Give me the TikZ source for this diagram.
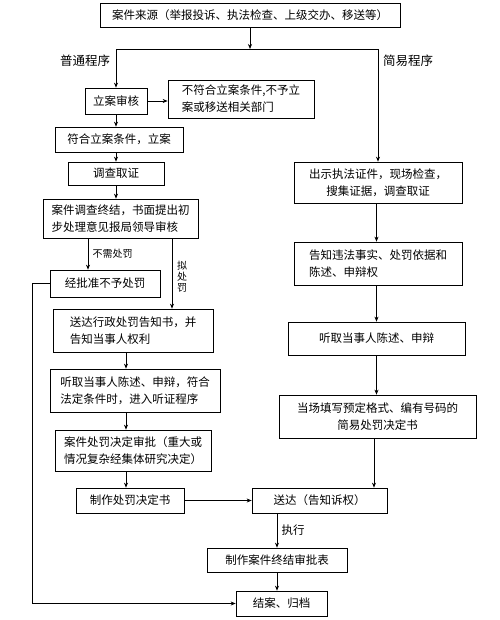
\documentclass[tikz,border=0pt]{standalone}
\usepackage{fontspec}
\newfontfamily\cjk{Noto Sans CJK SC}
\usetikzlibrary{arrows.meta,positioning}

\begin{document}
\begin{tikzpicture}[x=1pt, y=-1pt, >={Stealth[length=5pt,width=4pt]}, line width=0.7pt,
  box/.style={draw, font=\cjk\fontsize{11.5}{17}\selectfont, inner sep=2pt, align=left},
  lbl/.style={font=\cjk\fontsize{12.5}{15}\selectfont},
  note/.style={font=\cjk\fontsize{10}{11}\selectfont, align=center}]
\useasboundingbox (0,0) rectangle (499,620);
% nodes
\node[box, minimum width=300, minimum height=24] (src) at (250,15) {案件来源（举报投诉、执法检查、上级交办、移送等）};%
\coordinate (split) at (250,49);
\node[lbl] (putong) at (85,61) {普通程序};%
\node[lbl] (jianyi) at (408,61) {简易程序};%

\node[box, minimum width=62, minimum height=26] (lian) at (116,101) {立案审核};%
\node[box, minimum width=146, minimum height=38] (buhe) at (241,99) {不符合立案条件,不予立\\案或移送相关部门};%
\node[box, minimum width=128, minimum height=25] (fuhe) at (119,139.5) {符合立案条件，立案};%
\node[box, minimum width=96, minimum height=23] (diaocha) at (116,173.5) {调查取证};%
\node[box, minimum width=155, minimum height=39] (zhongjie) at (120.5,218.5) {案件调查终结，书面提出初\\步处理意见报局领导审核};%
\node[box, minimum width=110, minimum height=27] (buyu) at (105,283.5) {经批准不予处罚};%
\node[box, minimum width=160, minimum height=43] (gaozhi) at (133,330.5) {送达行政处罚告知书，并\\告知当事人权利};%
\node[box, minimum width=170, minimum height=43] (tingqu) at (135,390.5) {听取当事人陈述、申辩，符合\\法定条件时，进入听证程序};%
\node[box, minimum width=156, minimum height=41] (shenpi) at (133,450.5) {案件处罚决定审批（重大或\\情况复杂经集体研究决定）};%
\node[box, minimum width=108, minimum height=25] (juedingshu) at (130,500.5) {制作处罚决定书};%

\node[box, minimum width=168, minimum height=41, align=center] (chushi) at (378,182.5) {出示执法证件，现场检查，\\搜集证据，调查取证};%
\node[box, minimum width=168, minimum height=43] (weifa) at (378,263.5) {告知违法事实、处罚依据和\\陈述、申辩权};%
\node[box, minimum width=177, minimum height=33] (tingqu2) at (376.5,338.5) {听取当事人陈述、申辩};%
\node[box, minimum width=197, minimum height=43, align=center] (dangchang) at (377.5,416.5) {当场填写预定格式、编有号码的\\简易处罚决定书};%

\node[box, minimum width=135, minimum height=25] (songda) at (319.5,500.5) {送达（告知诉权）};%
\node[box, minimum width=140, minimum height=24] (shenpibiao) at (277,560) {制作案件终结审批表};%
\node[box, minimum width=91, minimum height=25] (jiean) at (281.5,603.5) {结案、归档};%

% connectors
\draw[->] (src) -- (split);
\draw[->] (split) -| (lian);
\draw[->] (split) -| (chushi);
\draw[->] (lian.east) -- (lian.east -| buhe.west);
\draw[->] (lian.south) -- (lian.south |- fuhe.north);
\draw[->] (fuhe.south -| lian.south) -- (lian.south |- diaocha.north);
\draw[->] (diaocha.south -| lian.south) -- (lian.south |- zhongjie.north);
\draw[->] ([xshift=-32.5pt]zhongjie.south) -- ([xshift=-32.5pt]zhongjie.south |- buyu.north)
  node[note, midway, right=1pt] (buxu) {不需处罚};
\draw[->] ([xshift=51.5pt]zhongjie.south) -- ([xshift=51.5pt]zhongjie.south |- gaozhi.north);
\node[note] (ni) at (182,277) {拟\\处\\罚};%
\draw[->] (buyu.west) -- ++(-17,0) |- (jiean.west);
\draw[->] ([xshift=-7pt]gaozhi.south) -- ([xshift=-7pt]gaozhi.south |- tingqu.north);
\draw[->] ([xshift=-9pt]tingqu.south) -- ([xshift=-9pt]tingqu.south |- shenpi.north);
\draw[->] ([xshift=-7pt]shenpi.south) -- ([xshift=-7pt]shenpi.south |- juedingshu.north);
\draw[->] (juedingshu) -- (songda);
\draw[->] (shenpibiao.north |- songda.south) -- (shenpibiao.north)
  node[lbl, midway, right=1pt, font=\cjk\fontsize{11.5}{14}\selectfont] (zhixing) {执行};
\draw[->] (shenpibiao.south) -- (shenpibiao.south |- jiean.north);

\draw[->] (chushi.south -| tingqu2.south) -- (tingqu2.south |- weifa.north);
\draw[->] (weifa.south -| tingqu2.south) -- (tingqu2.north);
\draw[->] (tingqu2.south) -- (tingqu2.south |- dangchang.north);
\draw[->] ([xshift=-3.5pt]dangchang.south) -- ([xshift=-3.5pt]dangchang.south |- songda.north);
\end{tikzpicture}
\end{document}
